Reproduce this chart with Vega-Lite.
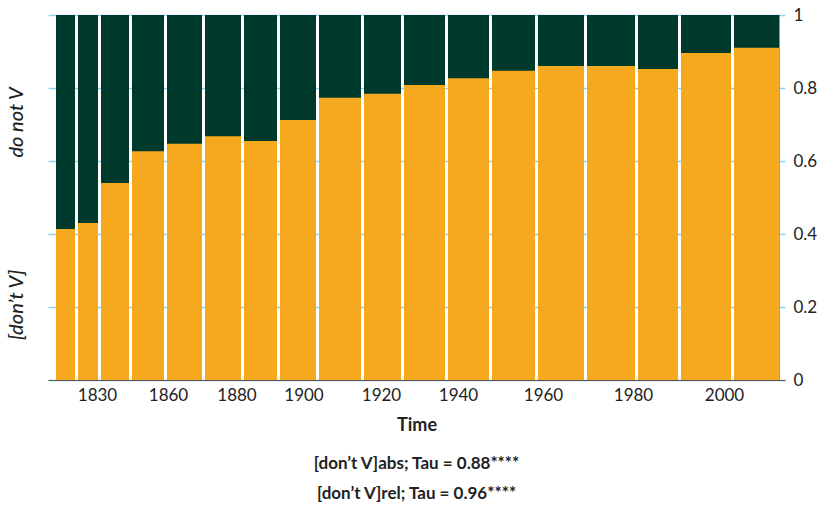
{
  "$schema": "https://vega.github.io/schema/vega-lite/v6.json",
  "width": 737,
  "height": 365,
  "autosize": {"type": "none"},
  "padding": {"left": 48, "top": 15, "right": 37, "bottom": 129},
  "background": "white",
  "config": {
    "view": {"stroke": null},
    "font": "Lato",
    "axis": {"labelFont": "Lato", "titleFont": "Lato", "labelColor": "#222222", "titleColor": "#222222"}
  },
  "title": {
    "text": ["[don’t V]abs; Tau = 0.88****", "[don’t V]rel; Tau = 0.96****"],
    "orient": "bottom",
    "anchor": "middle",
    "fontSize": 17,
    "fontWeight": "bold",
    "color": "#222222",
    "lineHeight": 30,
    "offset": 22
  },
  "data": {
    "values": [
      {"slot": 1, "n": 22, "p": 0.414},
      {"slot": 2, "n": 23, "p": 0.430},
      {"slot": 3, "n": 31, "p": 0.540},
      {"slot": 4, "n": 35, "p": 0.627},
      {"slot": 5, "n": 38, "p": 0.647},
      {"slot": 6, "n": 39, "p": 0.668},
      {"slot": 7, "n": 36, "p": 0.655},
      {"slot": 8, "n": 39, "p": 0.712},
      {"slot": 9, "n": 45, "p": 0.773},
      {"slot": 10, "n": 40, "p": 0.784},
      {"slot": 11, "n": 44, "p": 0.808},
      {"slot": 12, "n": 44, "p": 0.827},
      {"slot": 13, "n": 46, "p": 0.847},
      {"slot": 14, "n": 49, "p": 0.860},
      {"slot": 15, "n": 51, "p": 0.860},
      {"slot": 16, "n": 43, "p": 0.852},
      {"slot": 17, "n": 53, "p": 0.896},
      {"slot": 18, "n": 48.5, "p": 0.910}
    ]
  },
  "transform": [
    {"stack": "n", "groupby": [], "sort": [{"field": "slot", "order": "ascending"}], "as": ["x0", "x1"]}
  ],
  "layer": [
    {
      "mark": {"type": "rect", "color": "#003A2D", "x2Offset": -3},
      "encoding": {
        "x": {
          "field": "x0", "type": "quantitative",
          "scale": {"domain": [-8, 729], "nice": false, "zero": false},
          "axis": {
            "title": "Time",
            "titleFontSize": 18,
            "titleFontWeight": "bold",
            "titlePadding": 13,
            "values": [41, 112, 180.5, 247.5, 325, 402, 487, 577, 668],
            "labelExpr": "['1830','1860','1880','1900','1920','1940','1960','1980','2000'][indexof([41, 112, 180.5, 247.5, 325, 402, 487, 577, 668], datum.value)]",
            "labelFontSize": 17,
            "labelPadding": 7,
            "ticks": false,
            "grid": false,
            "domainColor": "#555555",
            "domainWidth": 1.2,
            "labelOverlap": false
          }
        },
        "x2": {"field": "x1"},
        "y": {
          "datum": 1, "type": "quantitative",
          "scale": {"domain": [0, 1], "nice": false},
          "axis": {
            "orient": "left",
            "title": null,
            "values": [0.207, 0.707],
            "labelExpr": "datum.value < 0.5 ? '[don’t V]' : 'do not V'",
            "labelAngle": -90,
            "labelFontSize": 20,
            "labelFontStyle": "italic",
            "labelFontWeight": 500,
            "labelPadding": 22,
            "ticks": false,
            "domain": false,
            "grid": false,
            "labelOverlap": false
          }
        },
        "y2": {"datum": 0}
      }
    },
    {
      "mark": {"type": "rect", "color": "#F6A81E", "x2Offset": -3},
      "encoding": {
        "x": {"field": "x0", "type": "quantitative"},
        "x2": {"field": "x1"},
        "y": {
          "field": "p", "type": "quantitative",
          "axis": {
            "orient": "right",
            "title": null,
            "values": [0, 0.2, 0.4, 0.6, 0.8, 1],
            "format": "~g",
            "labelFontSize": 17,
            "labelPadding": 8,
            "ticks": false,
            "domain": false,
            "grid": true,
            "gridColor": "#8FD3F0",
            "gridWidth": 1.5,
            "zindex": 0
          }
        },
        "y2": {"datum": 0}
      }
    }
  ],
  "resolve": {"axis": {"y": "independent"}}
}
